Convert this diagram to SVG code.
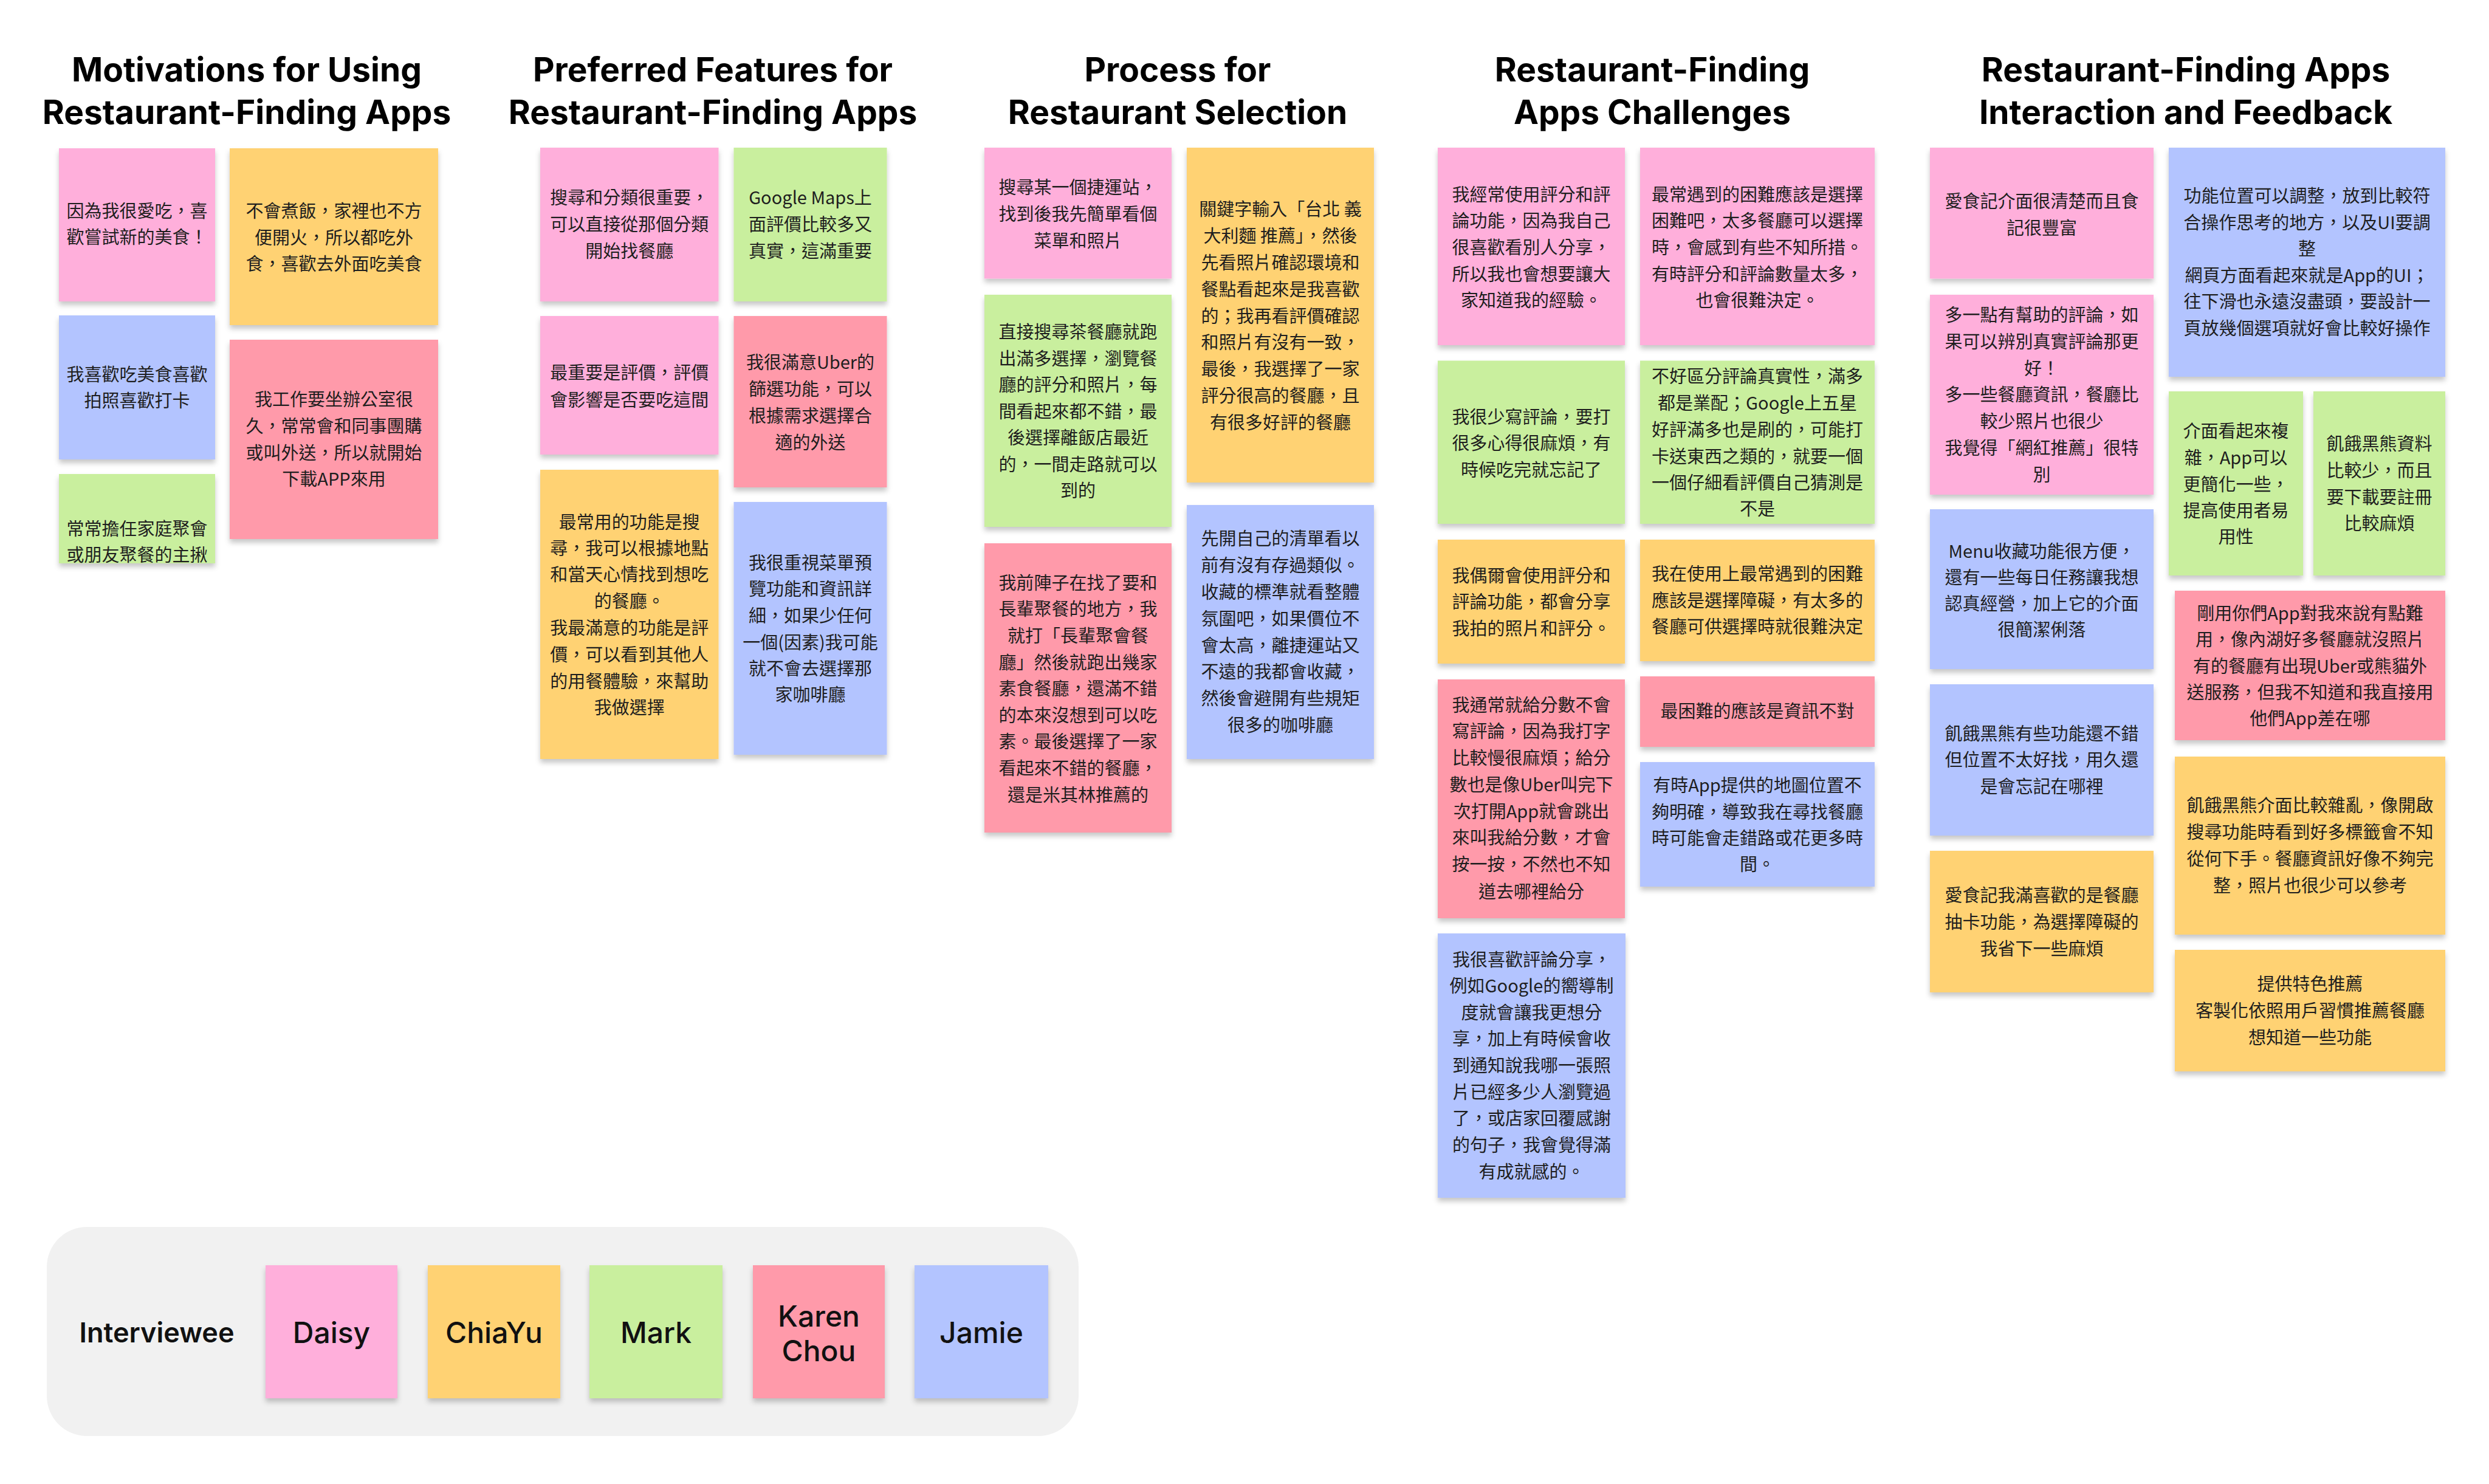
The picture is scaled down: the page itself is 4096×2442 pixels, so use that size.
<svg xmlns="http://www.w3.org/2000/svg" width="4096" height="2442" viewBox="0 0 4096 2442">
<style>
.bg{fill:#ffffff}
.title{font-family:Inter,"Noto Sans",sans-serif;font-weight:700;font-size:55px;fill:#000;text-anchor:middle}
.note rect,.leg rect{filter:url(#sh)}
.note text{font-family:"Noto Sans CJK TC","Noto Sans CJK SC",sans-serif;font-size:29px;fill:#1e1e1e;text-anchor:middle;dominant-baseline:central}
.pk{fill:#FFAFDB}
.yl{fill:#FFD273}
.gr{fill:#C9EF9E}
.rd{fill:#FF9AAA}
.bl{fill:#B3C4FF}
.legbox{fill:#F1F1F1}
.leglabel{font-family:Inter,"Noto Sans",sans-serif;font-weight:600;font-size:45px;fill:#111;text-anchor:middle;dominant-baseline:central}
.leg text{font-family:Inter,"Noto Sans",sans-serif;font-weight:500;font-size:48px;fill:#111;text-anchor:middle;dominant-baseline:central}
</style>
<defs>
<filter id="sh" x="-10%" y="-10%" width="120%" height="130%">
<feDropShadow dx="0" dy="6" stdDeviation="4" flood-color="#000" flood-opacity="0.22"/>
</filter>
</defs>
<rect class="bg" x="0" y="0" width="4096" height="2442"/>

<g id="titles">
<text class="title" x="406" y="134">Motivations for Using</text>
<text class="title" x="406" y="204">Restaurant-Finding Apps</text>
<text class="title" x="1173" y="134">Preferred Features for</text>
<text class="title" x="1173" y="204">Restaurant-Finding Apps</text>
<text class="title" x="1938" y="134">Process for</text>
<text class="title" x="1938" y="204">Restaurant Selection</text>
<text class="title" x="2719" y="134">Restaurant-Finding</text>
<text class="title" x="2719" y="204">Apps Challenges</text>
<text class="title" x="3597" y="134">Restaurant-Finding Apps</text>
<text class="title" x="3597" y="204">Interaction and Feedback</text>
</g>

<g id="connectors"></g>

<!-- Column 1 -->
<g id="n1" class="note"><rect class="pk" x="97" y="244" width="257" height="252"/>
<text><tspan x="225.5" y="345">因為我很愛吃，喜</tspan><tspan x="225.5" y="388">歡嘗試新的美食！</tspan></text></g>
<g id="n2" class="note"><rect class="yl" x="378" y="244" width="343" height="291"/>
<text><tspan x="549.5" y="345">不會煮飯，家裡也不方</tspan><tspan x="549.5" y="388.5">便開火，所以都吃外</tspan><tspan x="549.5" y="432">食，喜歡去外面吃美食</tspan></text></g>
<g id="n3" class="note"><rect class="bl" x="97" y="519" width="257" height="237"/>
<text><tspan x="225.5" y="614">我喜歡吃美食喜歡</tspan><tspan x="225.5" y="657">拍照喜歡打卡</tspan></text></g>
<g id="n4" class="note"><rect class="rd" x="378" y="559" width="343" height="328"/>
<text><tspan x="549.5" y="655">我工作要坐辦公室很</tspan><tspan x="549.5" y="699">久，常常會和同事團購</tspan><tspan x="549.5" y="743">或叫外送，所以就開始</tspan><tspan x="549.5" y="786">下載APP來用</tspan></text></g>
<g id="n5" class="note"><rect class="gr" x="97" y="780" width="257" height="147"/>
<text><tspan x="225.5" y="868">常常擔任家庭聚會</tspan><tspan x="225.5" y="911">或朋友聚餐的主揪</tspan></text></g>

<!-- Column 2 -->
<g id="n6" class="note"><rect class="pk" x="889" y="243" width="293.5" height="253"/>
<text><tspan x="1035.75" y="323">搜尋和分類很重要，</tspan><tspan x="1035.75" y="367">可以直接從那個分類</tspan><tspan x="1035.75" y="411">開始找餐廳</tspan></text></g>
<g id="n7" class="note"><rect class="gr" x="1207.5" y="243" width="252" height="253"/>
<text><tspan x="1333.5" y="323">Google Maps上</tspan><tspan x="1333.5" y="367">面評價比較多又</tspan><tspan x="1333.5" y="411">真實，這滿重要</tspan></text></g>
<g id="n8" class="note"><rect class="pk" x="889" y="520" width="293.5" height="228"/>
<text><tspan x="1035.75" y="611">最重要是評價，評價</tspan><tspan x="1035.75" y="656">會影響是否要吃這間</tspan></text></g>
<g id="n9" class="note"><rect class="rd" x="1207.5" y="520" width="252" height="282"/>
<text><tspan x="1333.5" y="594">我很滿意Uber的</tspan><tspan x="1333.5" y="638">篩選功能，可以</tspan><tspan x="1333.5" y="682">根據需求選擇合</tspan><tspan x="1333.5" y="726">適的外送</tspan></text></g>
<g id="n10" class="note"><rect class="yl" x="889" y="773" width="293.5" height="476"/>
<text><tspan x="1035.75" y="857">最常用的功能是搜</tspan><tspan x="1035.75" y="900">尋，我可以根據地點</tspan><tspan x="1035.75" y="943">和當天心情找到想吃</tspan><tspan x="1035.75" y="987">的餐廳。</tspan><tspan x="1035.75" y="1031">我最滿意的功能是評</tspan><tspan x="1035.75" y="1075">價，可以看到其他人</tspan><tspan x="1035.75" y="1119">的用餐體驗，來幫助</tspan><tspan x="1035.75" y="1162">我做選擇</tspan></text></g>
<g id="n11" class="note"><rect class="bl" x="1207.5" y="826" width="252" height="416"/>
<text><tspan x="1333.5" y="924">我很重視菜單預</tspan><tspan x="1333.5" y="967">覽功能和資訊詳</tspan><tspan x="1333.5" y="1011">細，如果少任何</tspan><tspan x="1333.5" y="1055">一個(因素)我可能</tspan><tspan x="1333.5" y="1098">就不會去選擇那</tspan><tspan x="1333.5" y="1141">家咖啡廳</tspan></text></g>

<!-- Column 3 -->
<g id="n12" class="note"><rect class="pk" x="1620" y="243" width="308" height="215.5"/>
<text><tspan x="1774" y="306">搜尋某一個捷運站，</tspan><tspan x="1774" y="350">找到後我先簡單看個</tspan><tspan x="1774" y="394">菜單和照片</tspan></text></g>
<g id="n13" class="note"><rect class="yl" x="1953" y="243" width="308" height="551"/>
<text><tspan x="2107" y="342">關鍵字輸入「台北 義</tspan><tspan x="2107" y="386">大利麵 推薦」，然後</tspan><tspan x="2107" y="430">先看照片確認環境和</tspan><tspan x="2107" y="474">餐點看起來是我喜歡</tspan><tspan x="2107" y="518">的；我再看評價確認</tspan><tspan x="2107" y="561">和照片有沒有一致，</tspan><tspan x="2107" y="605">最後，我選擇了一家</tspan><tspan x="2107" y="649">評分很高的餐廳，且</tspan><tspan x="2107" y="693">有很多好評的餐廳</tspan></text></g>
<g id="n14" class="note"><rect class="gr" x="1620" y="485" width="308" height="382"/>
<text><tspan x="1774" y="544">直接搜尋茶餐廳就跑</tspan><tspan x="1774" y="588">出滿多選擇，瀏覽餐</tspan><tspan x="1774" y="631">廳的評分和照片，每</tspan><tspan x="1774" y="675">間看起來都不錯，最</tspan><tspan x="1774" y="718">後選擇離飯店最近</tspan><tspan x="1774" y="762">的，一間走路就可以</tspan><tspan x="1774" y="805">到的</tspan></text></g>
<g id="n15" class="note"><rect class="rd" x="1620" y="894" width="308" height="476"/>
<text><tspan x="1774" y="957">我前陣子在找了要和</tspan><tspan x="1774" y="1000">長輩聚餐的地方，我</tspan><tspan x="1774" y="1044">就打「長輩聚會餐</tspan><tspan x="1774" y="1088">廳」然後就跑出幾家</tspan><tspan x="1774" y="1131">素食餐廳，還滿不錯</tspan><tspan x="1774" y="1175">的本來沒想到可以吃</tspan><tspan x="1774" y="1218">素。最後選擇了一家</tspan><tspan x="1774" y="1262">看起來不錯的餐廳，</tspan><tspan x="1774" y="1306">還是米其林推薦的</tspan></text></g>
<g id="n16" class="note"><rect class="bl" x="1953" y="831" width="308" height="418"/>
<text><tspan x="2107" y="884">先開自己的清單看以</tspan><tspan x="2107" y="928">前有沒有存過類似。</tspan><tspan x="2107" y="972">收藏的標準就看整體</tspan><tspan x="2107" y="1016">氛圍吧，如果價位不</tspan><tspan x="2107" y="1060">會太高，離捷運站又</tspan><tspan x="2107" y="1103">不遠的我都會收藏，</tspan><tspan x="2107" y="1147">然後會避開有些規矩</tspan><tspan x="2107" y="1191">很多的咖啡廳</tspan></text></g>

<!-- Column 4 -->
<g id="n17" class="note"><rect class="pk" x="2366" y="243" width="308" height="325"/>
<text><tspan x="2520" y="318">我經常使用評分和評</tspan><tspan x="2520" y="361">論功能，因為我自己</tspan><tspan x="2520" y="405">很喜歡看別人分享，</tspan><tspan x="2520" y="449">所以我也會想要讓大</tspan><tspan x="2520" y="492">家知道我的經驗。</tspan></text></g>
<g id="n18" class="note"><rect class="pk" x="2699" y="243" width="386" height="325"/>
<text><tspan x="2892" y="318">最常遇到的困難應該是選擇</tspan><tspan x="2892" y="361">困難吧，太多餐廳可以選擇</tspan><tspan x="2892" y="405">時，會感到有些不知所措。</tspan><tspan x="2892" y="449">有時評分和評論數量太多，</tspan><tspan x="2892" y="492">也會很難決定。</tspan></text></g>
<g id="n19" class="note"><rect class="gr" x="2366" y="593.5" width="308" height="268.5"/>
<text><tspan x="2520" y="684">我很少寫評論，要打</tspan><tspan x="2520" y="727">很多心得很麻煩，有</tspan><tspan x="2520" y="771">時候吃完就忘記了</tspan></text></g>
<g id="n20" class="note"><rect class="gr" x="2699" y="593.5" width="386" height="268.5"/>
<text><tspan x="2892" y="617">不好區分評論真實性，滿多</tspan><tspan x="2892" y="661">都是業配；Google上五星</tspan><tspan x="2892" y="705">好評滿多也是刷的，可能打</tspan><tspan x="2892" y="749">卡送東西之類的，就要一個</tspan><tspan x="2892" y="792">一個仔細看評價自己猜測是</tspan><tspan x="2892" y="835">不是</tspan></text></g>
<g id="n21" class="note"><rect class="yl" x="2366" y="888" width="308" height="204"/>
<text><tspan x="2520" y="945">我偶爾會使用評分和</tspan><tspan x="2520" y="988">評論功能，都會分享</tspan><tspan x="2520" y="1032">我拍的照片和評分。</tspan></text></g>
<g id="n22" class="note"><rect class="yl" x="2699" y="888" width="386" height="200"/>
<text><tspan x="2892" y="942">我在使用上最常遇到的困難</tspan><tspan x="2892" y="986">應該是選擇障礙，有太多的</tspan><tspan x="2892" y="1029">餐廳可供選擇時就很難決定</tspan></text></g>
<g id="n23" class="note"><rect class="rd" x="2366" y="1118" width="308" height="393"/>
<text><tspan x="2520" y="1158">我通常就給分數不會</tspan><tspan x="2520" y="1201">寫評論，因為我打字</tspan><tspan x="2520" y="1245">比較慢很麻煩；給分</tspan><tspan x="2520" y="1289">數也是像Uber叫完下</tspan><tspan x="2520" y="1333">次打開App就會跳出</tspan><tspan x="2520" y="1376">來叫我給分數，才會</tspan><tspan x="2520" y="1420">按一按，不然也不知</tspan><tspan x="2520" y="1465">道去哪裡給分</tspan></text></g>
<g id="n24" class="note"><rect class="rd" x="2699" y="1113" width="386" height="116"/>
<text><tspan x="2892" y="1168">最困難的應該是資訊不對</tspan></text></g>
<g id="n25" class="note"><rect class="bl" x="2699" y="1254" width="386" height="205"/>
<text><tspan x="2892" y="1290">有時App提供的地圖位置不</tspan><tspan x="2892" y="1334">夠明確，導致我在尋找餐廳</tspan><tspan x="2892" y="1377">時可能會走錯路或花更多時</tspan><tspan x="2892" y="1420">間。</tspan></text></g>
<g id="n26" class="note"><rect class="bl" x="2366" y="1536" width="309" height="435"/>
<text><tspan x="2520.5" y="1577">我很喜歡評論分享，</tspan><tspan x="2520.5" y="1620">例如Google的嚮導制</tspan><tspan x="2520.5" y="1664">度就會讓我更想分</tspan><tspan x="2520.5" y="1707">享，加上有時候會收</tspan><tspan x="2520.5" y="1751">到通知說我哪一張照</tspan><tspan x="2520.5" y="1795">片已經多少人瀏覽過</tspan><tspan x="2520.5" y="1838">了，或店家回覆感謝</tspan><tspan x="2520.5" y="1882">的句子，我會覺得滿</tspan><tspan x="2520.5" y="1926">有成就感的。</tspan></text></g>

<!-- Column 5 -->
<g id="n27" class="note"><rect class="pk" x="3176" y="243" width="368" height="215.5"/>
<text><tspan x="3360" y="329">愛食記介面很清楚而且食</tspan><tspan x="3360" y="373">記很豐富</tspan></text></g>
<g id="n28" class="note"><rect class="bl" x="3569" y="243" width="455" height="377"/>
<text><tspan x="3796.5" y="320">功能位置可以調整，放到比較符</tspan><tspan x="3796.5" y="364">合操作思考的地方，以及UI要調</tspan><tspan x="3796.5" y="407">整</tspan><tspan x="3796.5" y="451">網頁方面看起來就是App的UI；</tspan><tspan x="3796.5" y="494">往下滑也永遠沒盡頭，要設計一</tspan><tspan x="3796.5" y="538">頁放幾個選項就好會比較好操作</tspan></text></g>
<g id="n29" class="note"><rect class="pk" x="3176" y="485" width="368" height="329"/>
<text><tspan x="3360" y="516">多一點有幫助的評論，如</tspan><tspan x="3360" y="560">果可以辨別真實評論那更</tspan><tspan x="3360" y="604">好！</tspan><tspan x="3360" y="647">多一些餐廳資訊，餐廳比</tspan><tspan x="3360" y="691">較少照片也很少</tspan><tspan x="3360" y="735">我覺得「網紅推薦」很特</tspan><tspan x="3360" y="779">別</tspan></text></g>
<g id="n30" class="note"><rect class="gr" x="3569" y="644" width="221" height="303"/>
<text><tspan x="3679.5" y="707">介面看起來複</tspan><tspan x="3679.5" y="751">雜，App可以</tspan><tspan x="3679.5" y="795">更簡化一些，</tspan><tspan x="3679.5" y="838">提高使用者易</tspan><tspan x="3679.5" y="881">用性</tspan></text></g>
<g id="n31" class="note"><rect class="gr" x="3807" y="644" width="217" height="303"/>
<text><tspan x="3915.5" y="728">飢餓黑熊資料</tspan><tspan x="3915.5" y="772">比較少，而且</tspan><tspan x="3915.5" y="816">要下載要註冊</tspan><tspan x="3915.5" y="859">比較麻煩</tspan></text></g>
<g id="n32" class="note"><rect class="bl" x="3176" y="838" width="368" height="263"/>
<text><tspan x="3360" y="905">Menu收藏功能很方便，</tspan><tspan x="3360" y="948">還有一些每日任務讓我想</tspan><tspan x="3360" y="991">認真經營，加上它的介面</tspan><tspan x="3360" y="1034">很簡潔俐落</tspan></text></g>
<g id="n33" class="note"><rect class="rd" x="3579" y="972" width="445" height="246"/>
<text><tspan x="3801.5" y="1007">剛用你們App對我來說有點難</tspan><tspan x="3801.5" y="1050">用，像內湖好多餐廳就沒照片</tspan><tspan x="3801.5" y="1094">有的餐廳有出現Uber或熊貓外</tspan><tspan x="3801.5" y="1137">送服務，但我不知道和我直接用</tspan><tspan x="3801.5" y="1180">他們App差在哪</tspan></text></g>
<g id="n34" class="note"><rect class="bl" x="3176" y="1126" width="368" height="249"/>
<text><tspan x="3360" y="1205">飢餓黑熊有些功能還不錯</tspan><tspan x="3360" y="1248">但位置不太好找，用久還</tspan><tspan x="3360" y="1292">是會忘記在哪裡</tspan></text></g>
<g id="n35" class="note"><rect class="yl" x="3579" y="1245" width="445" height="293"/>
<text><tspan x="3801.5" y="1323">飢餓黑熊介面比較雜亂，像開啟</tspan><tspan x="3801.5" y="1367">搜尋功能時看到好多標籤會不知</tspan><tspan x="3801.5" y="1411">從何下手。餐廳資訊好像不夠完</tspan><tspan x="3801.5" y="1455">整，照片也很少可以參考</tspan></text></g>
<g id="n36" class="note"><rect class="yl" x="3176" y="1400" width="368" height="233"/>
<text><tspan x="3360" y="1471">愛食記我滿喜歡的是餐廳</tspan><tspan x="3360" y="1515">抽卡功能，為選擇障礙的</tspan><tspan x="3360" y="1559">我省下一些麻煩</tspan></text></g>
<g id="n37" class="note"><rect class="yl" x="3579" y="1563" width="445" height="200"/>
<text><tspan x="3801.5" y="1617">提供特色推薦</tspan><tspan x="3801.5" y="1661">客製化依照用戶習慣推薦餐廳</tspan><tspan x="3801.5" y="1705">想知道一些功能</tspan></text></g>

<!-- Legend -->
<g id="legend">
<rect class="legbox" x="77" y="2019" width="1698" height="344" rx="66" ry="66"/>
<text class="leglabel" x="258" y="2192">Interviewee</text>
<g id="leg-daisy" class="leg"><rect class="pk" x="437" y="2082" width="217" height="219"/><text x="545.5" y="2192">Daisy</text></g>
<g id="leg-chiayu" class="leg"><rect class="yl" x="704" y="2082" width="218" height="219"/><text x="813" y="2192">ChiaYu</text></g>
<g id="leg-mark" class="leg"><rect class="gr" x="970" y="2082" width="219" height="219"/><text x="1079.5" y="2192">Mark</text></g>
<g id="leg-karen" class="leg"><rect class="rd" x="1239" y="2082" width="217" height="219"/><text x="1347.5" y="2165">Karen</text><text x="1347.5" y="2222">Chou</text></g>
<g id="leg-jamie" class="leg"><rect class="bl" x="1505" y="2082" width="220" height="219"/><text x="1615" y="2192">Jamie</text></g>
</g>
</svg>
